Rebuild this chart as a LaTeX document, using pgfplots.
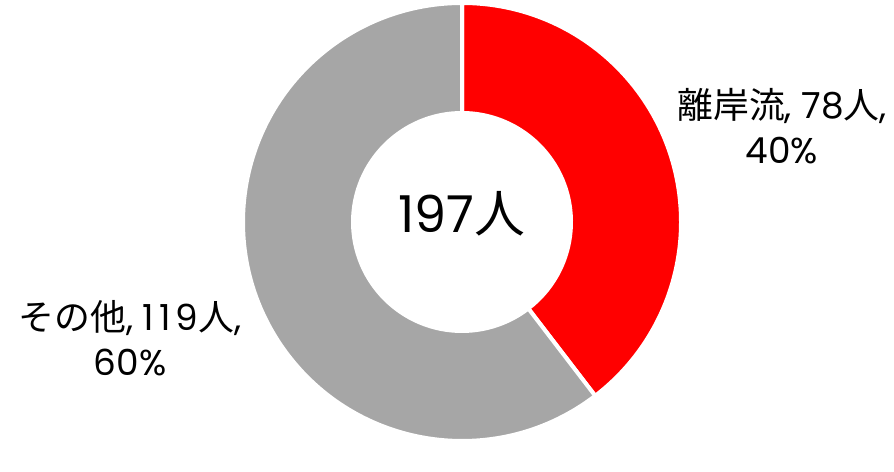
\documentclass[border=0pt]{standalone}
\usepackage{pgfplots}
\pgfplotsset{compat=1.18}
\usepackage{pgfplotstable}
\usepackage{fontspec}
\setmainfont{Poppins}[Numbers=Monospaced]
\newfontfamily\jp{Noto Sans CJK JP}
\definecolor{ripred}{HTML}{FF0000}
\definecolor{othgray}{HTML}{A6A6A6}
\pgfplotstableread{
label value
rip 78
other 119
}\datatable
\begin{document}
\begin{tikzpicture}
\pgfplotstablegetelem{0}{value}\of\datatable \let\va\pgfplotsretval
\pgfplotstablegetelem{1}{value}\of\datatable \let\vb\pgfplotsretval
\pgfmathsetmacro{\tot}{\va+\vb}
\pgfmathsetmacro{\frac}{\va/\tot}
\pgfmathsetmacro{\aend}{90-360*\frac}
\begin{axis}[hide axis, scale only axis, width=894bp, height=440bp,
  xmin=0, xmax=894, ymin=0, ymax=440, clip=false]
\path (axis cs:0,0) rectangle (axis cs:894,440);
\begin{scope}[shift={(axis cs:462,218)}]
\filldraw[fill=ripred, draw=white, line width=4bp]
  (90:219bp) arc[start angle=90, end angle=\aend, radius=219bp]
  -- (\aend:109bp) arc[start angle=\aend, end angle=90, radius=109bp] -- cycle;
\filldraw[fill=othgray, draw=white, line width=4bp]
  (\aend:219bp) arc[start angle=\aend, end angle=-270, radius=219bp]
  -- (-270:109bp) arc[start angle=-270, end angle=\aend, radius=109bp] -- cycle;
\end{scope}
\node[align=center, font=\fontsize{36}{45}\selectfont] at (axis cs:782,314)
  {{\jp 離岸流}, 78{\jp 人},\\40\%};
\node[align=center, font=\fontsize{36}{45}\selectfont] at (axis cs:130,102)
  {{\jp その他},\ 1\hspace{5bp}1\hspace{5bp}9{\jp 人},\\60\%};
\node[font=\fontsize{51}{55}\selectfont] at (axis cs:462,226) {197{\jp 人}};
\end{axis}
\end{tikzpicture}
\end{document}
